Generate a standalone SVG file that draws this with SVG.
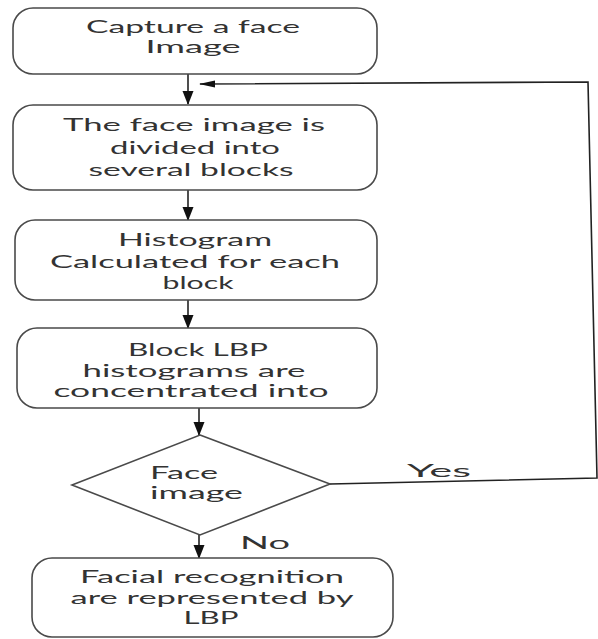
<svg xmlns="http://www.w3.org/2000/svg" width="598" height="639" viewBox="0 0 598 639">
<style>
.box{fill:#fff;stroke:#4a4a4a;stroke-width:1.6}
.t{font-family:Lato,"Open Sans","Liberation Sans",sans-serif;font-size:18px;fill:#333;text-anchor:middle}
.tl{font-family:Lato,"Open Sans","Liberation Sans",sans-serif;font-size:18px;fill:#333}
.c{fill:none;stroke:#222;stroke-width:1.6}
</style>
<defs>
<marker id="ah" markerUnits="userSpaceOnUse" markerWidth="14" markerHeight="12" viewBox="0 0 14 12" refX="13" refY="6" orient="auto">
<path d="M0,0.5 L14,6 L0,11.5 Z" fill="#111"/>
</marker>
<marker id="ah2" markerUnits="userSpaceOnUse" markerWidth="16" markerHeight="8" viewBox="0 0 16 8" refX="15" refY="4" orient="auto">
<path d="M0,0.5 L16,4 L0,7.5 Z" fill="#111"/>
</marker>
</defs>
<rect width="598" height="639" fill="#fff"/>
<g id="connectors">
<line class="c" x1="188" y1="74" x2="188" y2="104" marker-end="url(#ah)"/>
<line class="c" x1="188" y1="190" x2="188" y2="220" marker-end="url(#ah)"/>
<line class="c" x1="188" y1="300" x2="188" y2="328" marker-end="url(#ah)"/>
<line class="c" x1="199" y1="408" x2="199" y2="435" marker-end="url(#ah)"/>
<line class="c" x1="199" y1="535" x2="199" y2="558" marker-end="url(#ah)"/>
<polyline class="c" points="330,484 597,478 588,82 200,84" marker-end="url(#ah2)"/>
<text class="tl" x="407" y="477" textLength="64" lengthAdjust="spacingAndGlyphs">Yes</text>
<text class="tl" x="240" y="549" textLength="50" lengthAdjust="spacingAndGlyphs">No</text>
</g>
<g id="n1">
<rect class="box" x="13" y="8" width="364" height="66" rx="20"/>
<text class="t" x="193" y="33" textLength="214" lengthAdjust="spacingAndGlyphs">Capture a face</text>
<text class="t" x="193" y="53" textLength="95" lengthAdjust="spacingAndGlyphs">Image</text>
</g>
<g id="n2">
<rect class="box" x="13" y="105" width="364" height="85" rx="20"/>
<text class="t" x="194" y="131" textLength="262" lengthAdjust="spacingAndGlyphs">The face image is</text>
<text class="t" x="195" y="154" textLength="170" lengthAdjust="spacingAndGlyphs">divided into</text>
<text class="t" x="191" y="176" textLength="205" lengthAdjust="spacingAndGlyphs">several blocks</text>
</g>
<g id="n3">
<rect class="box" x="15" y="220" width="362" height="80" rx="20"/>
<text class="t" x="195" y="246" textLength="154" lengthAdjust="spacingAndGlyphs">Histogram</text>
<text class="t" x="195" y="268" textLength="290" lengthAdjust="spacingAndGlyphs">Calculated for each</text>
<text class="t" x="198" y="289" textLength="71" lengthAdjust="spacingAndGlyphs">block</text>
</g>
<g id="n4">
<rect class="box" x="17" y="328" width="360" height="80" rx="20"/>
<text class="t" x="198" y="356" textLength="140" lengthAdjust="spacingAndGlyphs">Block LBP</text>
<text class="t" x="194" y="377" textLength="223" lengthAdjust="spacingAndGlyphs">histograms are</text>
<text class="t" x="191" y="397" textLength="275" lengthAdjust="spacingAndGlyphs">concentrated into</text>
</g>
<g id="n5">
<polygon class="box" points="200,435 330,484 200,535 72,485"/>
<text class="tl" x="150" y="479" style="font-size:17px" textLength="68" lengthAdjust="spacingAndGlyphs">Face</text>
<text class="tl" x="150" y="499" style="font-size:17px" textLength="93" lengthAdjust="spacingAndGlyphs">image</text>
</g>
<g id="n6">
<rect class="box" x="32" y="558" width="361" height="79" rx="20"/>
<text class="t" x="212" y="583" textLength="264" lengthAdjust="spacingAndGlyphs">Facial recognition</text>
<text class="t" x="212" y="604" textLength="283" lengthAdjust="spacingAndGlyphs">are represented by</text>
<text class="t" x="211" y="624" textLength="55" lengthAdjust="spacingAndGlyphs">LBP</text>
</g>
</svg>
